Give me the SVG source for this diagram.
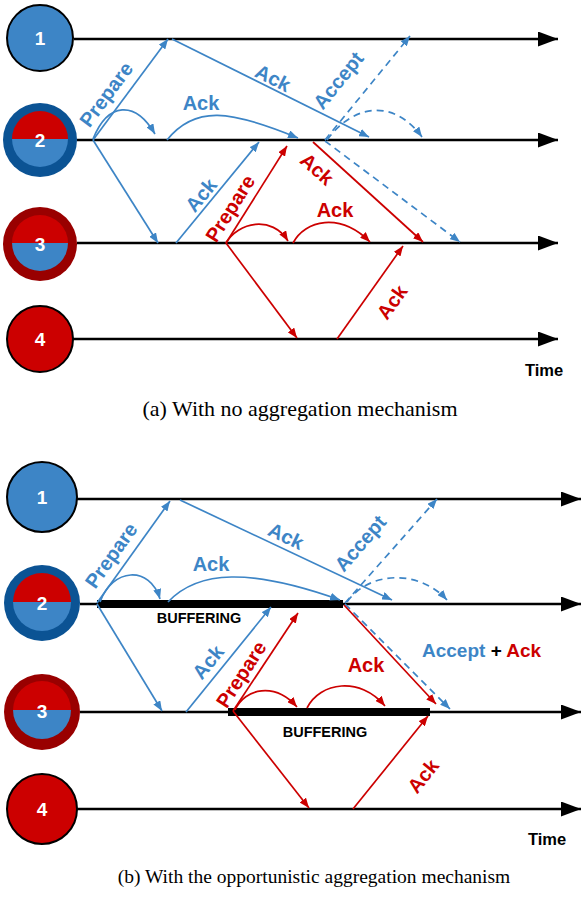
<svg xmlns="http://www.w3.org/2000/svg" width="582" height="898" viewBox="0 0 582 898">
<style>
.tl{stroke:#000;stroke-width:2.5;fill:none;marker-end:url(#ak)}
.bl{stroke:#3d85c6;stroke-width:1.7;fill:none;marker-end:url(#ab)}
.rl{stroke:#cc0000;stroke-width:1.7;fill:none;marker-end:url(#ar)}
.ds{stroke-dasharray:7,5}
.lb{font-family:"Liberation Sans",Arial,sans-serif;font-weight:bold;font-size:20px;text-anchor:middle}
.b{fill:#3d85c6}
.r{fill:#cc0000}
.num{font-family:"Liberation Sans",Arial,sans-serif;font-weight:bold;font-size:19px;fill:#fff;text-anchor:middle}
.buf{font-family:"Liberation Sans",Arial,sans-serif;font-weight:bold;font-size:14.5px;fill:#000;text-anchor:middle}
.time{font-family:"Liberation Sans",Arial,sans-serif;font-weight:bold;font-size:16.5px;fill:#000;text-anchor:middle}
.cap{font-family:"Liberation Serif","Times New Roman",serif;fill:#000;text-anchor:middle}
</style>
<defs>
<marker id="ab" viewBox="0 0 10 8" refX="10" refY="4" markerWidth="10" markerHeight="8" markerUnits="userSpaceOnUse" orient="auto"><path d="M0,0L10,4L0,8z" fill="#3d85c6"/></marker>
<marker id="ar" viewBox="0 0 10 8" refX="10" refY="4" markerWidth="10" markerHeight="8" markerUnits="userSpaceOnUse" orient="auto"><path d="M0,0L10,4L0,8z" fill="#cc0000"/></marker>
<marker id="ak" viewBox="0 0 20 15" refX="20" refY="7.5" markerWidth="20" markerHeight="15" markerUnits="userSpaceOnUse" orient="auto"><path d="M0,0L20,7.5L0,15z" fill="#000"/></marker>
</defs>
<rect width="582" height="898" fill="#fff"/>

<!-- ===== (a) ===== -->
<g id="timelines-a">
<path class="tl" d="M74,39H558"/>
<path class="tl" d="M77,140H558"/>
<path class="tl" d="M77,243H558"/>
<path class="tl" d="M73,339H558"/>
</g>
<g id="a-node1">
<circle cx="40" cy="38" r="33" fill="#3d85c6" stroke="#000" stroke-width="2"/>
<text class="num" x="40" y="45">1</text>
</g>
<g id="a-node2">
<circle cx="40" cy="140" r="37" fill="#0b5394"/>
<path d="M12,139A28,28 0 0 1 68,139Z" fill="#cc0000"/>
<path d="M12,139A28,28 0 0 0 68,139Z" fill="#3d85c6"/>
<text class="num" x="40" y="147">2</text>
</g>
<g id="a-node3">
<circle cx="40" cy="244" r="37" fill="#990000"/>
<path d="M12,243A28,28 0 0 1 68,243Z" fill="#cc0000"/>
<path d="M12,243A28,28 0 0 0 68,243Z" fill="#3d85c6"/>
<text class="num" x="40" y="251">3</text>
</g>
<g id="a-node4">
<circle cx="40" cy="339" r="33" fill="#cc0000" stroke="#000" stroke-width="2"/>
<text class="num" x="40" y="346">4</text>
</g>
<g id="connectors-a">
<path class="bl" d="M93,140L168,39"/>
<path class="bl" d="M93,140L158,243"/>
<path class="bl" d="M93,139C108,102 135,100 155,134"/>
<path class="bl" d="M167,140C195,105 230,110 298,138"/>
<path class="bl" d="M172,39L369,137"/>
<path class="bl" d="M176,243L259,142"/>
<path class="bl ds" d="M325,140L410,36"/>
<path class="bl ds" d="M327,140C355,102 395,100 422,137"/>
<path class="bl ds" d="M325,141L460,242"/>
<path class="rl" d="M226,243L287,146"/>
<path class="rl" d="M226,243C238,222 272,215 288,241"/>
<path class="rl" d="M293,243C305,220 340,212 370,242"/>
<path class="rl" d="M313,142L423,242"/>
<path class="rl" d="M226,243L297,338"/>
<path class="rl" d="M337,339L403,246"/>
</g>
<g id="labels-a">
<text class="lb b" transform="translate(107,95) rotate(-53.4)" y="6">Prepare</text>
<text class="lb b" x="201" y="110">Ack</text>
<text class="lb b" transform="translate(273,78) rotate(26.6)" y="7">Ack</text>
<text class="lb b" transform="translate(201,195) rotate(-50.5)" y="7">Ack</text>
<text class="lb b" transform="translate(339,81) rotate(-51)" y="6">Accept</text>
<text class="lb r" transform="translate(231,209) rotate(-57.8)" y="6">Prepare</text>
<text class="lb r" x="335" y="217">Ack</text>
<text class="lb r" transform="translate(317,169) rotate(42)" y="7">Ack</text>
<text class="lb r" transform="translate(392,302) rotate(-54.6)" y="7">Ack</text>
<text class="time" x="544" y="376">Time</text>
</g>
<text class="cap" x="300" y="416" font-size="22" textLength="315" lengthAdjust="spacing">(a) With no aggregation mechanism</text>

<!-- ===== (b) ===== -->
<g id="timelines-b">
<path class="tl" d="M77,499H581"/>
<path class="tl" d="M80,604H581"/>
<path class="tl" d="M80,712H581"/>
<path class="tl" d="M77,809H581"/>
<rect x="97" y="600" width="246" height="8" fill="#000"/>
<rect x="228" y="708" width="202" height="8" fill="#000"/>
<text class="buf" x="199" y="623">BUFFERING</text>
<text class="buf" x="325" y="737">BUFFERING</text>
</g>
<g id="b-node1">
<circle cx="42" cy="497" r="35" fill="#3d85c6" stroke="#000" stroke-width="2"/>
<text class="num" x="42" y="504">1</text>
</g>
<g id="b-node2">
<circle cx="42" cy="603" r="38" fill="#0b5394"/>
<path d="M13,602A29,29 0 0 1 71,602Z" fill="#cc0000"/>
<path d="M13,602A29,29 0 0 0 71,602Z" fill="#3d85c6"/>
<text class="num" x="42" y="610">2</text>
</g>
<g id="b-node3">
<circle cx="42" cy="712" r="38" fill="#990000"/>
<path d="M13,710A29,29 0 0 1 71,710Z" fill="#cc0000"/>
<path d="M13,710A29,29 0 0 0 71,710Z" fill="#3d85c6"/>
<text class="num" x="42" y="718">3</text>
</g>
<g id="b-node4">
<circle cx="42" cy="809" r="35" fill="#cc0000" stroke="#000" stroke-width="2"/>
<text class="num" x="42" y="816">4</text>
</g>
<g id="connectors-b">
<path class="bl" d="M97,603L170,501"/>
<path class="bl" d="M97,604L162,711"/>
<path class="bl" d="M100,602C112,568 150,565 160,599"/>
<path class="bl" d="M168,602C198,570 250,568 340,600"/>
<path class="bl" d="M180,500L392,600"/>
<path class="bl" d="M186,712L271,607"/>
<path class="bl ds" d="M345,603L437,499"/>
<path class="bl ds" d="M347,602C370,570 420,570 447,600"/>
<path class="bl ds" d="M345,604L450,709"/>
<path class="rl" d="M233,711L298,613"/>
<path class="rl" d="M235,710C245,688 275,682 297,707"/>
<path class="rl" d="M307,708C320,682 360,676 385,706"/>
<path class="rl" d="M344,605L436,704"/>
<path class="rl" d="M233,711L309,808"/>
<path class="rl" d="M353,809L428,716"/>
</g>
<g id="labels-b">
<text class="lb b" transform="translate(112,556) rotate(-54.5)" y="6">Prepare</text>
<text class="lb b" x="211" y="571">Ack</text>
<text class="lb b" transform="translate(286,536) rotate(25.3)" y="7">Ack</text>
<text class="lb b" transform="translate(208,662) rotate(-50.7)" y="7">Ack</text>
<text class="lb b" transform="translate(361,544) rotate(-49)" y="6">Accept</text>
<text class="lb r" transform="translate(242,675) rotate(-57)" y="6">Prepare</text>
<text class="lb r" x="366" y="672">Ack</text>
<text class="lb r" transform="translate(423,776) rotate(-51)" y="7">Ack</text>
<text class="lb" x="422" y="657" style="text-anchor:start;font-size:19px"><tspan class="b">Accept</tspan><tspan fill="#000"> + </tspan><tspan class="r">Ack</tspan></text>
<text class="time" x="547" y="845">Time</text>
</g>
<text class="cap" x="314" y="883" font-size="19.5">(b) With the opportunistic aggregation mechanism</text>
</svg>
